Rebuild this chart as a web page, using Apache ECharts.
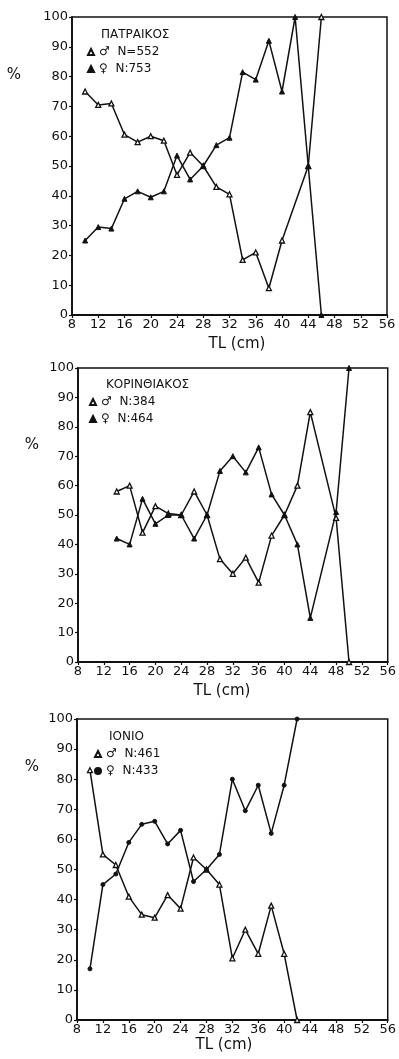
<!DOCTYPE html>
<html>
<head>
<meta charset="utf-8">
<script src="https://cdn.jsdelivr.net/npm/echarts@6/dist/echarts.min.js"></script>
<style>
  html, body { margin: 0; padding: 0; background: #fff; }
  #chart { width: 399px; height: 1059px; }
</style>
</head>
<body>
<div id="chart"></div>
<script>
// x axis ticks (TL, cm)
const xTicks = [8, 12, 16, 20, 24, 28, 32, 36, 40, 44, 48, 52, 56]
const yTicks = [0, 10, 20, 30, 40, 50, 60, 70, 80, 90, 100]

// ΠΑΤΡΑΙΚΟΣ
const patLen = [10, 12, 14, 16, 18, 20, 22, 24, 26, 28, 30, 32, 34, 36, 38, 40, 42, 44, 46]
const patMale = [75, 70.5, 71, 60.5, 58, 60, 58.5, 47, 54.5, 50, 43, 40.5, 18.5, 21, 9, 25, null, 50, 100]
const patFemale = [25, 29.5, 29, 39, 41.5, 39.5, 41.5, 53.5, 45.5, 50, 57, 59.5, 81.5, 79, 92, 75, 100, 50, 0]

// ΚΟΡΙΝΘΙΑΚΟΣ
const korLen = [14, 16, 18, 20, 22, 24, 26, 28, 30, 32, 34, 36, 38, 40, 42, 44, 48, 50]
const korMale = [58, 60, 44, 53, 50.5, 50, 58, 50, 35, 30, 35.5, 27, 43, 50, 60, 85, 49, 0]
const korFemale = [42, 40, 55.5, 47, 50, 50, 42, 50, 65, 70, 64.5, 73, 57, 50, 40, 15, 51, 100]

// ΙΟΝΙΟ
const ionLen = [10, 12, 14, 16, 18, 20, 22, 24, 26, 28, 30, 32, 34, 36, 38, 40, 42]
const ionMale = [83, 55, 51.5, 41, 35, 34, 41.5, 37, 54, 50, 45, 20.5, 30, 22, 38, 22, 0]
const ionFemale = [17, 45, 48.5, 59, 65, 66, 58.5, 63, 46, 50, 55, 80, 69.5, 78, 62, 78, 100]

const panels = [
	{ name: 'ΠΑΤΡΑΙΚΟΣ', len: patLen, male: patMale, female: patFemale, nM: 'N=552', nF: 'N:753', femaleSymbol: 'triangle' },
	{ name: 'ΚΟΡΙΝΘΙΑΚΟΣ', len: korLen, male: korMale, female: korFemale, nM: 'N:384', nF: 'N:464', femaleSymbol: 'triangle' },
	{ name: 'ΙΟΝΙΟ', len: ionLen, male: ionMale, female: ionFemale, nM: 'N:461', nF: 'N:433', femaleSymbol: 'circle' },
]

// layout of the three boxes
const boxes = [
	{ left: 72, top: 17, width: 315, height: 298, pctX: 14, pctY: 75, tlX: 237, tlY: 344, titleX: 101, titleY: 29, legX: 87, legY: 46 },
	{ left: 78, top: 368, width: 311, height: 294, pctX: 32, pctY: 445, tlX: 222, tlY: 691, titleX: 106, titleY: 379, legX: 89, legY: 396 },
	{ left: 77, top: 719, width: 313, height: 301, pctX: 32, pctY: 767, tlX: 224, tlY: 1045, titleX: 109, titleY: 731, legX: 94, legY: 748 },
]

const font = 'DejaVu Sans'
const pairs = (xs, ys) => xs.map((x, i) => [x, ys[i]])

const grid = [], xAxis = [], yAxis = [], series = [], legend = [], title = [], graphic = []

panels.forEach((p, i) => {
	const b = boxes[i]
	grid.push({
		left: b.left, top: b.top, width: b.width, height: b.height,
		show: true, borderColor: '#111', borderWidth: 1.5, backgroundColor: 'transparent',
	})
	xAxis.push({
		type: 'value', gridIndex: i,
		min: xTicks[0], max: xTicks[xTicks.length - 1], interval: xTicks[1] - xTicks[0],
		axisLine: { lineStyle: { color: '#111', width: 1.8 } },
		axisTick: { show: true, length: 3, lineStyle: { color: '#111', width: 1.2 } },
		axisLabel: { color: '#111', fontSize: 13, fontFamily: font, margin: 3 },
		splitLine: { show: false },
	})
	yAxis.push({
		type: 'value', gridIndex: i,
		min: yTicks[0], max: yTicks[yTicks.length - 1], interval: yTicks[1] - yTicks[0],
		axisLine: { show: true, lineStyle: { color: '#111', width: 1.8 } },
		axisTick: { show: true, length: 3, lineStyle: { color: '#111', width: 1.2 } },
		axisLabel: { color: '#111', fontSize: 13, fontFamily: font, margin: 4 },
		splitLine: { show: false },
	})
	const mName = '♂  ' + p.nM
	const fName = '♀  ' + p.nF
	series.push({
		name: mName, type: 'line', xAxisIndex: i, yAxisIndex: i,
		data: pairs(p.len, p.male), connectNulls: true,
		symbol: 'triangle', symbolSize: 5,
		itemStyle: { color: '#fff', borderColor: '#111', borderWidth: 1.3 },
		lineStyle: { color: '#111', width: 1.5 },
		animation: false,
	})
	series.push({
		name: fName, type: 'line', xAxisIndex: i, yAxisIndex: i,
		data: pairs(p.len, p.female), connectNulls: true,
		symbol: p.femaleSymbol, symbolSize: p.femaleSymbol === 'circle' ? 4 : 5,
		itemStyle: { color: '#111', borderColor: '#111', borderWidth: 1 },
		lineStyle: { color: '#111', width: 1.5 },
		animation: false,
	})
	legend.push({
		data: [{ name: mName, icon: 'triangle' }, { name: fName, icon: p.femaleSymbol }],
		orient: 'vertical', left: b.legX, top: b.legY,
		itemWidth: 6, itemHeight: 6, itemGap: 5, padding: 0,
		textStyle: { color: '#111', fontSize: 12, fontFamily: font },
		selectedMode: false,
	})
	title.push({
		text: p.name, left: b.titleX, top: b.titleY, padding: 0,
		textStyle: { color: '#111', fontSize: 12, fontWeight: 'normal', fontFamily: font },
	})
	graphic.push({
		type: 'text', x: b.tlX, y: b.tlY,
		style: { text: 'TL (cm)', font: '15px "DejaVu Sans"', fill: '#111', textAlign: 'center', textVerticalAlign: 'middle' },
	})
	graphic.push({
		type: 'text', x: b.pctX, y: b.pctY,
		style: { text: '%', font: '15px "DejaVu Sans"', fill: '#111', textAlign: 'center', textVerticalAlign: 'middle' },
	})
})

const chart = echarts.init(document.getElementById('chart'))
chart.setOption({
	backgroundColor: '#fff',
	animation: false,
	title: title,
	legend: legend,
	grid: grid,
	xAxis: xAxis,
	yAxis: yAxis,
	series: series,
	graphic: graphic,
})
</script>
</body>
</html>
